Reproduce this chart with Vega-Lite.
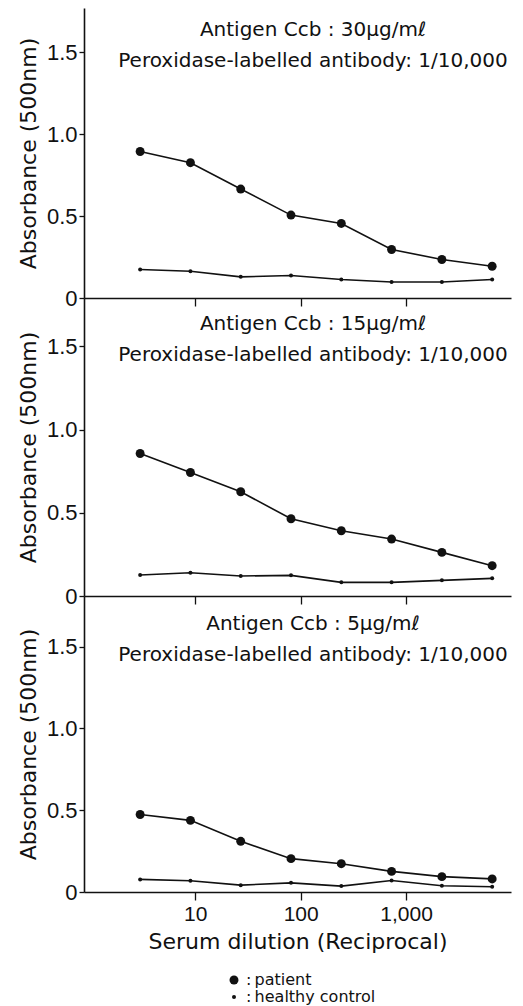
{
  "$schema": "https://vega.github.io/schema/vega-lite/v6.json",
  "padding": {"left": 17, "top": 8, "right": 5, "bottom": 0},
  "bounds": "flush",
  "spacing": 0,
  "background": "white",
  "datasets": {
    "d": [
      {"p": "A", "g": "patient", "d": 3, "a": 0.894},
      {"p": "A", "g": "patient", "d": 9, "a": 0.826},
      {"p": "A", "g": "patient", "d": 27, "a": 0.665},
      {"p": "A", "g": "patient", "d": 81, "a": 0.506},
      {"p": "A", "g": "patient", "d": 243, "a": 0.455},
      {"p": "A", "g": "patient", "d": 729, "a": 0.296},
      {"p": "A", "g": "patient", "d": 2187, "a": 0.235},
      {"p": "A", "g": "patient", "d": 6561, "a": 0.194},
      {"p": "A", "g": "healthy control", "d": 3, "a": 0.174},
      {"p": "A", "g": "healthy control", "d": 9, "a": 0.163},
      {"p": "A", "g": "healthy control", "d": 27, "a": 0.129},
      {"p": "A", "g": "healthy control", "d": 81, "a": 0.137},
      {"p": "A", "g": "healthy control", "d": 243, "a": 0.113},
      {"p": "A", "g": "healthy control", "d": 729, "a": 0.098},
      {"p": "A", "g": "healthy control", "d": 2187, "a": 0.098},
      {"p": "A", "g": "healthy control", "d": 6561, "a": 0.113},
      {"p": "B", "g": "patient", "d": 3, "a": 0.856},
      {"p": "B", "g": "patient", "d": 9, "a": 0.742},
      {"p": "B", "g": "patient", "d": 27, "a": 0.626},
      {"p": "B", "g": "patient", "d": 81, "a": 0.464},
      {"p": "B", "g": "patient", "d": 243, "a": 0.392},
      {"p": "B", "g": "patient", "d": 729, "a": 0.342},
      {"p": "B", "g": "patient", "d": 2187, "a": 0.262},
      {"p": "B", "g": "patient", "d": 6561, "a": 0.182},
      {"p": "B", "g": "healthy control", "d": 3, "a": 0.126},
      {"p": "B", "g": "healthy control", "d": 9, "a": 0.140},
      {"p": "B", "g": "healthy control", "d": 27, "a": 0.120},
      {"p": "B", "g": "healthy control", "d": 81, "a": 0.124},
      {"p": "B", "g": "healthy control", "d": 243, "a": 0.082},
      {"p": "B", "g": "healthy control", "d": 729, "a": 0.082},
      {"p": "B", "g": "healthy control", "d": 2187, "a": 0.094},
      {"p": "B", "g": "healthy control", "d": 6561, "a": 0.106},
      {"p": "C", "g": "patient", "d": 3, "a": 0.474},
      {"p": "C", "g": "patient", "d": 9, "a": 0.438},
      {"p": "C", "g": "patient", "d": 27, "a": 0.310},
      {"p": "C", "g": "patient", "d": 81, "a": 0.204},
      {"p": "C", "g": "patient", "d": 243, "a": 0.173},
      {"p": "C", "g": "patient", "d": 729, "a": 0.126},
      {"p": "C", "g": "patient", "d": 2187, "a": 0.094},
      {"p": "C", "g": "patient", "d": 6561, "a": 0.080},
      {"p": "C", "g": "healthy control", "d": 3, "a": 0.077},
      {"p": "C", "g": "healthy control", "d": 9, "a": 0.069},
      {"p": "C", "g": "healthy control", "d": 27, "a": 0.042},
      {"p": "C", "g": "healthy control", "d": 81, "a": 0.056},
      {"p": "C", "g": "healthy control", "d": 243, "a": 0.036},
      {"p": "C", "g": "healthy control", "d": 729, "a": 0.070},
      {"p": "C", "g": "healthy control", "d": 2187, "a": 0.038},
      {"p": "C", "g": "healthy control", "d": 6561, "a": 0.032}
    ],
    "t": [
      {"p": "A", "l1": "Antigen Ccb : 30μg/mℓ", "l2": "Peroxidase-labelled antibody: 1/10,000"},
      {"p": "B", "l1": "Antigen Ccb : 15μg/mℓ", "l2": "Peroxidase-labelled antibody: 1/10,000"},
      {"p": "C", "l1": "Antigen Ccb : 5μg/mℓ", "l2": "Peroxidase-labelled antibody: 1/10,000"}
    ]
  },
  "config": {
    "view": {"stroke": null},
    "axis": {
      "grid": false,
      "domainColor": "#111",
      "domainWidth": 1.6,
      "tickColor": "#111",
      "tickWidth": 1.3,
      "labelColor": "#111",
      "titleColor": "#111",
      "labelFont": "Liberation Sans",
      "titleFont": "DejaVu Sans",
      "titleFontWeight": "normal"
    }
  },
  "resolve": {"scale": {"size": "shared"}},
  "vconcat": [
    {
      "width": 427,
      "height": 290,
      "layer": [
        {
          "data": {"name": "d"},
          "transform": [{"filter": "datum.p == 'A'"}],
          "mark": {"type": "line", "color": "#111", "strokeWidth": 1.6},
          "encoding": {
            "x": {"field": "d", "type": "quantitative", "scale": {"type": "log", "domain": [0.88, 9900], "nice": false},
                  "axis": {"values": [10, 100, 1000], "labels": false, "tickSize": 8, "title": null}},
            "y": {"field": "a", "type": "quantitative", "scale": {"domain": [0, 1.77], "nice": false},
                  "axis": {"values": [0, 0.5, 1, 1.5], "labelExpr": "datum.value == 0 ? '0' : format(datum.value, '.1f')", "tickSize": 5, "labelPadding": 2, "labelFontSize": 22, "title": "Absorbance (500nm)", "titleFontSize": 22, "titlePadding": 6}},
            "detail": {"field": "g"}
          }
        },
        {
          "data": {"name": "d"},
          "transform": [{"filter": "datum.p == 'A'"}],
          "mark": {"type": "point", "filled": true, "color": "#111", "opacity": 1},
          "encoding": {
            "x": {"field": "d", "type": "quantitative"},
            "y": {"field": "a", "type": "quantitative"},
            "size": {"field": "g", "type": "ordinal", "scale": {"domain": ["patient", "healthy control"], "range": [80, 16]},
                     "legend": {"title": null, "orient": "none", "legendX": 142, "legendY": 964, "direction": "vertical", "labelExpr": "':\u2009' + datum.label", "labelFont": "DejaVu Sans", "labelFontSize": 16, "labelColor": "#111", "symbolType": "circle", "symbolFillColor": "#111", "symbolStrokeWidth": 0, "rowPadding": 1}}
          }
        },
        {
          "data": {"name": "t"},
          "transform": [{"filter": "datum.p == 'A'"}],
          "mark": {"type": "text", "font": "DejaVu Sans", "fontSize": 20, "align": "center", "baseline": "alphabetic", "color": "#111"},
          "encoding": {
            "x": {"datum": 131, "type": "quantitative"},
            "y": {"datum": 1.6, "type": "quantitative"},
            "text": {"field": "l1"}
          }
        },
        {
          "data": {"name": "t"},
          "transform": [{"filter": "datum.p == 'A'"}],
          "mark": {"type": "text", "font": "DejaVu Sans", "fontSize": 20, "align": "center", "baseline": "alphabetic", "color": "#111"},
          "encoding": {
            "x": {"datum": 131, "type": "quantitative"},
            "y": {"datum": 1.41, "type": "quantitative"},
            "text": {"field": "l2"}
          }
        }
      ]
    },
    {
      "width": 427,
      "height": 298,
      "layer": [
        {
          "data": {"name": "d"},
          "transform": [{"filter": "datum.p == 'B'"}],
          "mark": {"type": "line", "color": "#111", "strokeWidth": 1.6},
          "encoding": {
            "x": {"field": "d", "type": "quantitative", "scale": {"type": "log", "domain": [0.88, 9900], "nice": false},
                  "axis": {"values": [10, 100, 1000], "labels": false, "tickSize": 8, "title": null}},
            "y": {"field": "a", "type": "quantitative", "scale": {"domain": [0, 1.79], "nice": false},
                  "axis": {"values": [0, 0.5, 1, 1.5], "labelExpr": "datum.value == 0 ? '0' : format(datum.value, '.1f')", "tickSize": 5, "labelPadding": 2, "labelFontSize": 22, "title": "Absorbance (500nm)", "titleFontSize": 22, "titlePadding": 6}},
            "detail": {"field": "g"}
          }
        },
        {
          "data": {"name": "d"},
          "transform": [{"filter": "datum.p == 'B'"}],
          "mark": {"type": "point", "filled": true, "color": "#111", "opacity": 1},
          "encoding": {
            "x": {"field": "d", "type": "quantitative"},
            "y": {"field": "a", "type": "quantitative"},
            "size": {"field": "g", "type": "ordinal", "scale": {"domain": ["patient", "healthy control"], "range": [80, 16]},
                     "legend": {"title": null, "orient": "none", "legendX": 142, "legendY": 964, "direction": "vertical", "labelExpr": "':\u2009' + datum.label", "labelFont": "DejaVu Sans", "labelFontSize": 16, "labelColor": "#111", "symbolType": "circle", "symbolFillColor": "#111", "symbolStrokeWidth": 0, "rowPadding": 1}}
          }
        },
        {
          "data": {"name": "t"},
          "transform": [{"filter": "datum.p == 'B'"}],
          "mark": {"type": "text", "font": "DejaVu Sans", "fontSize": 20, "align": "center", "baseline": "alphabetic", "color": "#111"},
          "encoding": {
            "x": {"datum": 131, "type": "quantitative"},
            "y": {"datum": 1.6, "type": "quantitative"},
            "text": {"field": "l1"}
          }
        },
        {
          "data": {"name": "t"},
          "transform": [{"filter": "datum.p == 'B'"}],
          "mark": {"type": "text", "font": "DejaVu Sans", "fontSize": 20, "align": "center", "baseline": "alphabetic", "color": "#111"},
          "encoding": {
            "x": {"datum": 131, "type": "quantitative"},
            "y": {"datum": 1.41, "type": "quantitative"},
            "text": {"field": "l2"}
          }
        }
      ]
    },
    {
      "width": 427,
      "height": 296,
      "layer": [
        {
          "data": {"name": "d"},
          "transform": [{"filter": "datum.p == 'C'"}],
          "mark": {"type": "line", "color": "#111", "strokeWidth": 1.6},
          "encoding": {
            "x": {"field": "d", "type": "quantitative", "scale": {"type": "log", "domain": [0.88, 9900], "nice": false},
                  "axis": {"values": [10, 100, 1000], "format": ",", "tickSize": 8, "labelPadding": 3, "labelFontSize": 21, "title": "Serum dilution (Reciprocal)", "titleFontSize": 22, "titlePadding": 7}},
            "y": {"field": "a", "type": "quantitative", "scale": {"domain": [0, 1.81], "nice": false},
                  "axis": {"values": [0, 0.5, 1, 1.5], "labelExpr": "datum.value == 0 ? '0' : format(datum.value, '.1f')", "tickSize": 5, "labelPadding": 2, "labelFontSize": 22, "title": "Absorbance (500nm)", "titleFontSize": 22, "titlePadding": 6}},
            "detail": {"field": "g"}
          }
        },
        {
          "data": {"name": "d"},
          "transform": [{"filter": "datum.p == 'C'"}],
          "mark": {"type": "point", "filled": true, "color": "#111", "opacity": 1},
          "encoding": {
            "x": {"field": "d", "type": "quantitative"},
            "y": {"field": "a", "type": "quantitative"},
            "size": {"field": "g", "type": "ordinal", "scale": {"domain": ["patient", "healthy control"], "range": [80, 16]},
                     "legend": {"title": null, "orient": "none", "legendX": 142, "legendY": 964, "direction": "vertical", "labelExpr": "':\u2009' + datum.label", "labelFont": "DejaVu Sans", "labelFontSize": 16, "labelColor": "#111", "symbolType": "circle", "symbolFillColor": "#111", "symbolStrokeWidth": 0, "rowPadding": 1}}
          }
        },
        {
          "data": {"name": "t"},
          "transform": [{"filter": "datum.p == 'C'"}],
          "mark": {"type": "text", "font": "DejaVu Sans", "fontSize": 20, "align": "center", "baseline": "alphabetic", "color": "#111"},
          "encoding": {
            "x": {"datum": 131, "type": "quantitative"},
            "y": {"datum": 1.6, "type": "quantitative"},
            "text": {"field": "l1"}
          }
        },
        {
          "data": {"name": "t"},
          "transform": [{"filter": "datum.p == 'C'"}],
          "mark": {"type": "text", "font": "DejaVu Sans", "fontSize": 20, "align": "center", "baseline": "alphabetic", "color": "#111"},
          "encoding": {
            "x": {"datum": 131, "type": "quantitative"},
            "y": {"datum": 1.41, "type": "quantitative"},
            "text": {"field": "l2"}
          }
        }
      ]
    }
  ]
}
